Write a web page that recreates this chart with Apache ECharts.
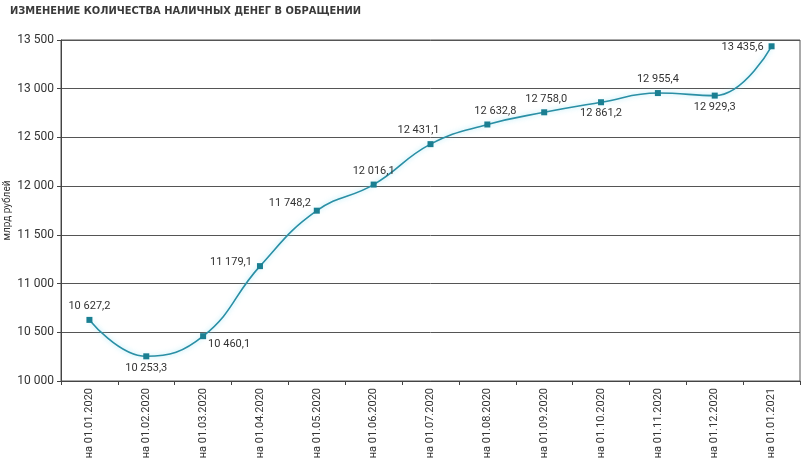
<!DOCTYPE html>
<html>
<head>
<meta charset="utf-8">
<script src="https://cdn.jsdelivr.net/npm/echarts@6/dist/echarts.min.js"></script>
<style>
html,body{margin:0;padding:0;background:#fff;}
#c{width:809px;height:460px;}
</style>
</head>
<body>
<div id="c"></div>
<script>
var categories = ['на 01.01.2020','на 01.02.2020','на 01.03.2020','на 01.04.2020','на 01.05.2020','на 01.06.2020','на 01.07.2020','на 01.08.2020','на 01.09.2020','на 01.10.2020','на 01.11.2020','на 01.12.2020','на 01.01.2021'];
var values = [10627.2, 10253.3, 10460.1, 11179.1, 11748.2, 12016.1, 12431.1, 12632.8, 12758.0, 12861.2, 12955.4, 12929.3, 13435.6];
var yTicks = [10000, 10500, 11000, 11500, 12000, 12500, 13000, 13500];

var labelPos = ['top','bottom','right','left','left','top','top','top','top','bottom','top','bottom','left'];
var labelOff = [[0,0],[0,-2],[-3,8],[0,-4],[2,-7],[0,0],[-12,0],[8,0],[2,0],[0,-2],[0,0],[0,-2],[0,1]];

function fmtNum(v, dec){
  var s = v.toFixed(dec);
  var parts = s.split('.');
  var ip = parts[0].replace(/\B(?=(\d{3})+(?!\d))/g, ' ');
  return parts.length > 1 ? ip + ',' + parts[1] : ip;
}

var chart = echarts.init(document.getElementById('c'));
var data = values.map(function(v, i){
  return {
    value: v,
    label: { position: labelPos[i], offset: labelOff[i] }
  };
});
chart.setOption({
  animation: false,
  title: {
    text: 'ИЗМЕНЕНИЕ КОЛИЧЕСТВА НАЛИЧНЫХ ДЕНЕГ В ОБРАЩЕНИИ',
    left: 5, top: 1,
    textStyle: { fontFamily: '"Liberation Sans Narrow","DejaVu Sans Condensed",Roboto,sans-serif', fontSize: 11, fontWeight: 'bold', color: '#3a3a3a' }
  },
  grid: { left: 61, right: 9, top: 40, bottom: 79, show: true, borderColor: '#555', borderWidth: 1, containLabel: false, outerBoundsMode: 'none' },
  xAxis: {
    type: 'category',
    data: categories,
    boundaryGap: true,
    axisLine: { lineStyle: { color: '#444' } },
    axisTick: { show: true, length: 4, lineStyle: { color: '#444' } },
    axisLabel: { rotate: 90, fontSize: 11, color: '#333', fontFamily: 'Roboto, sans-serif', margin: 7 }
  },
  yAxis: {
    type: 'value',
    min: yTicks[0], max: yTicks[yTicks.length-1], interval: 500,
    name: 'млрд рублей',
    nameLocation: 'middle',
    nameGap: 49,
    nameMoveOverlap: false,
    nameRotate: 90,
    nameTextStyle: { fontSize: 10, color: '#333', fontFamily: 'Roboto, sans-serif' },
    axisLine: { show: true, lineStyle: { color: '#444' } },
    axisTick: { show: true, length: 4, lineStyle: { color: '#444' } },
    splitLine: { lineStyle: { color: '#555', width: 1 } },
    axisLabel: { fontSize: 12, color: '#333', fontFamily: 'Roboto, sans-serif', margin: 7,
      formatter: function(v){ return fmtNum(v, 0); } }
  },
  series: [{
    type: 'line',
    data: data,
    smooth: 0.45,
    symbol: 'rect',
    symbolSize: 6,
    itemStyle: { color: '#1a7f92' },
    lineStyle: { color: '#2a8fa5', width: 1.6, shadowColor: 'rgba(140,225,245,0.8)', shadowBlur: 5 },
    label: {
      show: true,
      fontSize: 11,
      color: '#333',
      fontFamily: 'Roboto, sans-serif',
      formatter: function(p){ return fmtNum(p.value, 1); }
    }
  }]
});
</script>
</body>
</html>
